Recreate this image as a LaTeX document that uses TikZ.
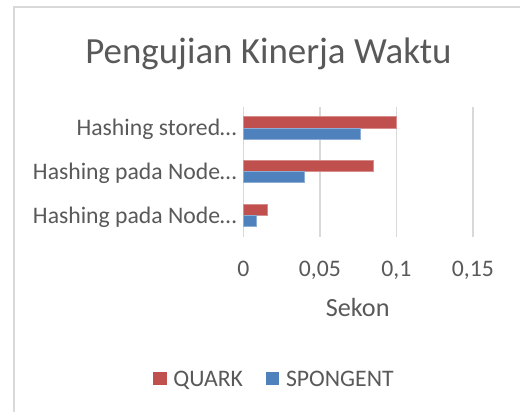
\documentclass[tikz,border=0pt]{standalone}
\usepackage{fontspec}
\setmainfont{Carlito}
\usetikzlibrary{positioning}
\definecolor{qred}{HTML}{C0504D}
\definecolor{sblue}{HTML}{4F81BD}
\definecolor{gridgray}{HTML}{D9D9D9}
\definecolor{txtgray}{HTML}{595959}
\tikzset{
  lbl/.style={inner sep=0pt,text=txtgray,font=\fontsize{11.85}{14}\selectfont},
  bar/.style={fill=#1,draw=#1!65!white,line width=0.5pt}
}

\begin{document}
\begin{tikzpicture}[x=0.5pt,y=-0.5pt]
  \useasboundingbox (0,0) rectangle (520,412);
  \fill[white] (0,0) rectangle (520,412);
  \draw[gridgray,line width=1pt] (14.3,412) -- (14.3,7.3) -- (520,7.3);
  \node[lbl,anchor=base,font=\fontsize{18.45}{22}\selectfont] (title) at (268.5,63.3) {Pengujian Kinerja Waktu};
  % grid and ticks
  \foreach \v/\lab [count=\i] in {0/0,0.05/{0,05},0.1/{0,1},0.15/{0,15}} {
    \draw[gridgray,line width=0.8pt] ({243.3+\v*1530},106.7) -- ({243.3+\v*1530},237.3);
    \node[lbl,anchor=base] (tick\i) at ({243.3+\v*1530},276.7) {\lab};
  }
  % bars: top y, quark, spongent
  \foreach \y/\q/\s in {116.7/0.1/0.0769,160.3/0.0852/0.0397,204/0.016/0.0087} {
    \draw[bar=qred] (243.3,\y) rectangle ({243.3+\q*1530},{\y+11.3});
    \draw[bar=sblue] (243.3,{\y+11.3}) rectangle ({243.3+\s*1530},{\y+22.6});
  }
  \node[lbl,anchor=base east] (cat1) at (237,135.3) {Hashing stored…};
  \node[lbl,anchor=base east] (cat2) at (237,179.3) {Hashing pada Node…};
  \node[lbl,anchor=base east] (cat3) at (237,223.3) {Hashing pada Node…};
  \node[lbl,anchor=base,font=\fontsize{13.1}{16}\selectfont] (xtitle) at (357.7,316) {Sekon};
  % legend
  \fill[qred] (153,372.3) rectangle (166.7,384.7);
  \node[lbl,anchor=base west] (legq) at (173,386) {QUARK};
  \fill[sblue] (266.3,372.3) rectangle (278.7,384.7);
  \node[lbl,anchor=base west] (legs) at (285.7,386) {SPONGENT};
\end{tikzpicture}
\end{document}
